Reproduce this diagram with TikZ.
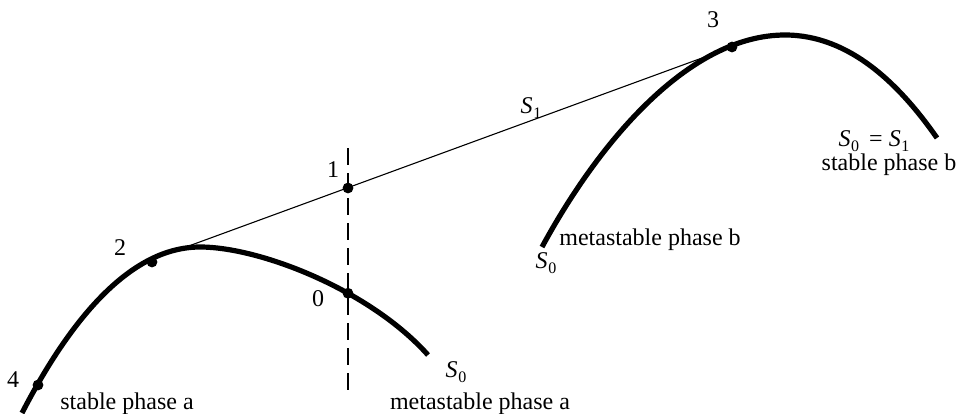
\documentclass[tikz,border=0pt]{standalone}
\usepackage{fontspec}
\setmainfont{Liberation Serif}
\usetikzlibrary{intersections}
\newcommand\Ssub[1]{\textit{S}\kern0.3pt\raisebox{-0.45ex}{\fontsize{8}{9}\selectfont #1}}
\begin{document}
\begin{tikzpicture}[x=0.5pt,y=-0.5pt,
  curve/.style={line width=2.6pt},
  thin line/.style={line width=0.55pt},
  dashline/.style={line width=0.6pt, dash pattern=on 8.5pt off 4pt},
  dot/.style={circle, fill=black, inner sep=0pt, minimum size=5.4pt},
  lab/.style={font=\fontsize{12}{14}\selectfont, inner sep=0pt}]
\useasboundingbox (0,0) rectangle (957,413);
% phase a
\coordinate (a0) at (22,413);
\coordinate (apk) at (200,247);
\coordinate (aend) at (428,355);
\draw[curve, name path=ca] (a0) .. controls (70,320) and (130,247) .. (apk)
      .. controls (260,247) and (370,290) .. (aend);
% phase b
\coordinate (b0) at (542,247);
\coordinate (bpk) at (785,35);
\coordinate (bend) at (937,138);
\draw[curve] (b0) .. controls (600,140) and (690,35) .. (bpk)
      .. controls (850,35) and (900,85) .. (bend);
% dashed vertical
\coordinate (dtop) at (348,148);
\coordinate (dbot) at (348,397);
\draw[dashline, name path=dl] (dtop) -- (dbot);
% tangent line
\coordinate (t0) at (186,247);
\node[dot] (p3) at (732,47) {};
\draw[thin line] (t0) -- (p3);
\node[dot] (p1) at (348,188) {};
\path[name intersections={of=ca and dl, by=x0}];
\node[dot] (p0) at (x0) {};
\node[dot] (p2) at (152,262) {};
\node[dot] (p4) at (38,385) {};
% labels
\node[lab] (l4) at (13,380) {4};
\node[lab] (l2) at (120,248) {2};
\node[lab] (l1) at (333,170) {1};
\node[lab] (l0) at (318,299) {0};
\node[lab] (l3) at (713,20) {3};
\node[lab] (ls1) at (531,108) {\Ssub{1}};
\node[lab] (lsa) at (456,372) {\Ssub{0}};
\node[lab] (lsb) at (546,263) {\Ssub{0}};
\node[lab] (lsbb) at (874,141) {\Ssub{0}\,\ =\ \Ssub{1}};
\node[lab] (tsa) at (127,404) {stable phase a};
\node[lab] (tma) at (480,404) {metastable phase a};
\node[lab] (tmb) at (650,240) {metastable phase b};
\node[lab] (tsb) at (889,165) {stable phase b};
\end{tikzpicture}
\end{document}
